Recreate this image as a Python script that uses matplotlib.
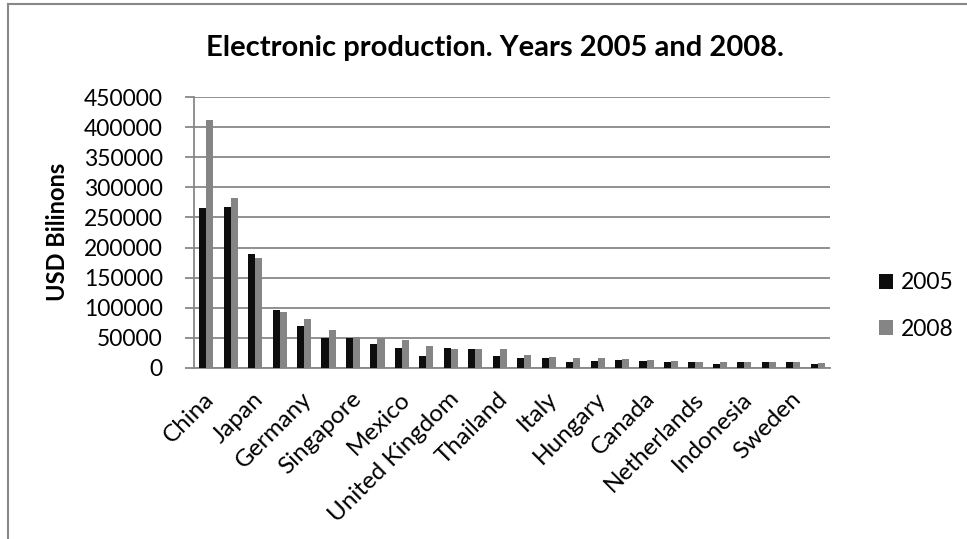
import matplotlib
matplotlib.use("Agg")
import matplotlib.pyplot as plt
import matplotlib.transforms as mtransforms
from matplotlib.lines import Line2D
from matplotlib.patches import Patch
import numpy as np

countries = ["China", "United States", "Japan", "South Korea", "Germany", "Taiwan",
             "Singapore", "Malaysia", "Mexico", "France", "United Kingdom", "Philippines",
             "Thailand", "Ireland", "Italy", "Czech Republic", "Hungary", "Brazil",
             "Canada", "India", "Netherlands", "Israel", "Indonesia", "Poland",
             "Sweden", "Finland"]
values_2005 = [265000, 267000, 190000, 96000, 70000, 49000,
               50000, 40000, 34000, 20000, 34000, 32000,
               20000, 17100, 16000, 10000, 12200, 12700,
               11600, 10000, 9400, 7200, 10000, 10000,
               10000, 7200]
values_2008 = [412000, 282000, 183000, 93000, 81000, 63000,
               51000, 50000, 46000, 37000, 32000, 31000,
               31000, 21500, 17600, 17100, 16600, 14300,
               12700, 11600, 9400, 10000, 10000, 9400,
               9400, 8300]
series_names = ["2005", "2008"]
yticks = [0, 50000, 100000, 150000, 200000, 250000, 300000, 350000, 400000, 450000]

FONT = "Lato"
plt.rcParams["font.family"] = [FONT, "DejaVu Sans"]

fig = plt.figure(figsize=(9.67, 5.39), dpi=100)
ax = fig.add_axes([194/967, 1-368/539, (830-194)/967, (368-97)/539])

x = np.arange(len(countries))
w = 0.29
c05 = "#0d0d0d"
c08 = "#858585"
ax.bar(x - w/2, values_2005, width=w, color=c05, zorder=3)
ax.bar(x + w/2, values_2008, width=w, color=c08, zorder=3)

ax.set_xlim(-0.5, len(countries) - 0.5)
ax.set_ylim(0, 450000)
ax.set_yticks(yticks)
ax.set_yticklabels([str(v) for v in yticks], fontsize=16.5)
ax.yaxis.grid(True, color="#888888", linewidth=1.3, zorder=0)
ax.set_axisbelow(True)
for s in ["top", "right"]:
    ax.spines[s].set_visible(False)
for s in ["left", "bottom"]:
    ax.spines[s].set_color("#888888")
    ax.spines[s].set_linewidth(1.3)
ax.tick_params(axis="y", direction="out", length=6.5, width=1.3, color="#888888", pad=16)
ax.tick_params(axis="x", length=0)

ax.set_xticks(x)
labels = [c if i % 2 == 0 else "" for i, c in enumerate(countries)]
ax.set_xticklabels(labels, rotation=45, ha="right", va="top",
                   rotation_mode="anchor", fontsize=17.5)
offset = mtransforms.ScaledTranslation(-2/72, -11/72, fig.dpi_scale_trans)
for lab in ax.get_xticklabels():
    lab.set_transform(lab.get_transform() + offset)

ax.set_ylabel("USD Bilinons", fontsize=17, fontweight="bold")
ax.yaxis.set_label_coords(69/967, 1-232/539, transform=fig.transFigure)

fig.text(495/967, 1-48/539, "Electronic production. Years 2005 and 2008.",
         ha="center", va="center", fontsize=21, fontweight="bold")

handles = [Patch(facecolor=c05, edgecolor="none"), Patch(facecolor=c08, edgecolor="none")]
fig.legend(handles, series_names, loc="center left",
           bbox_to_anchor=(879/967, 1-306/539), frameon=False, fontsize=16.5,
           borderpad=0, borderaxespad=0,
           handlelength=0.62, handleheight=0.62, handletextpad=0.35, labelspacing=1.1)

fig.add_artist(Line2D([8/967, 8/967], [0, 1-4/539], transform=fig.transFigure,
                      color="#888888", linewidth=1.5))
fig.add_artist(Line2D([8/967, 1], [1-4/539, 1-4/539], transform=fig.transFigure,
                      color="#888888", linewidth=1.5))

fig.savefig("out.png", dpi=100)
